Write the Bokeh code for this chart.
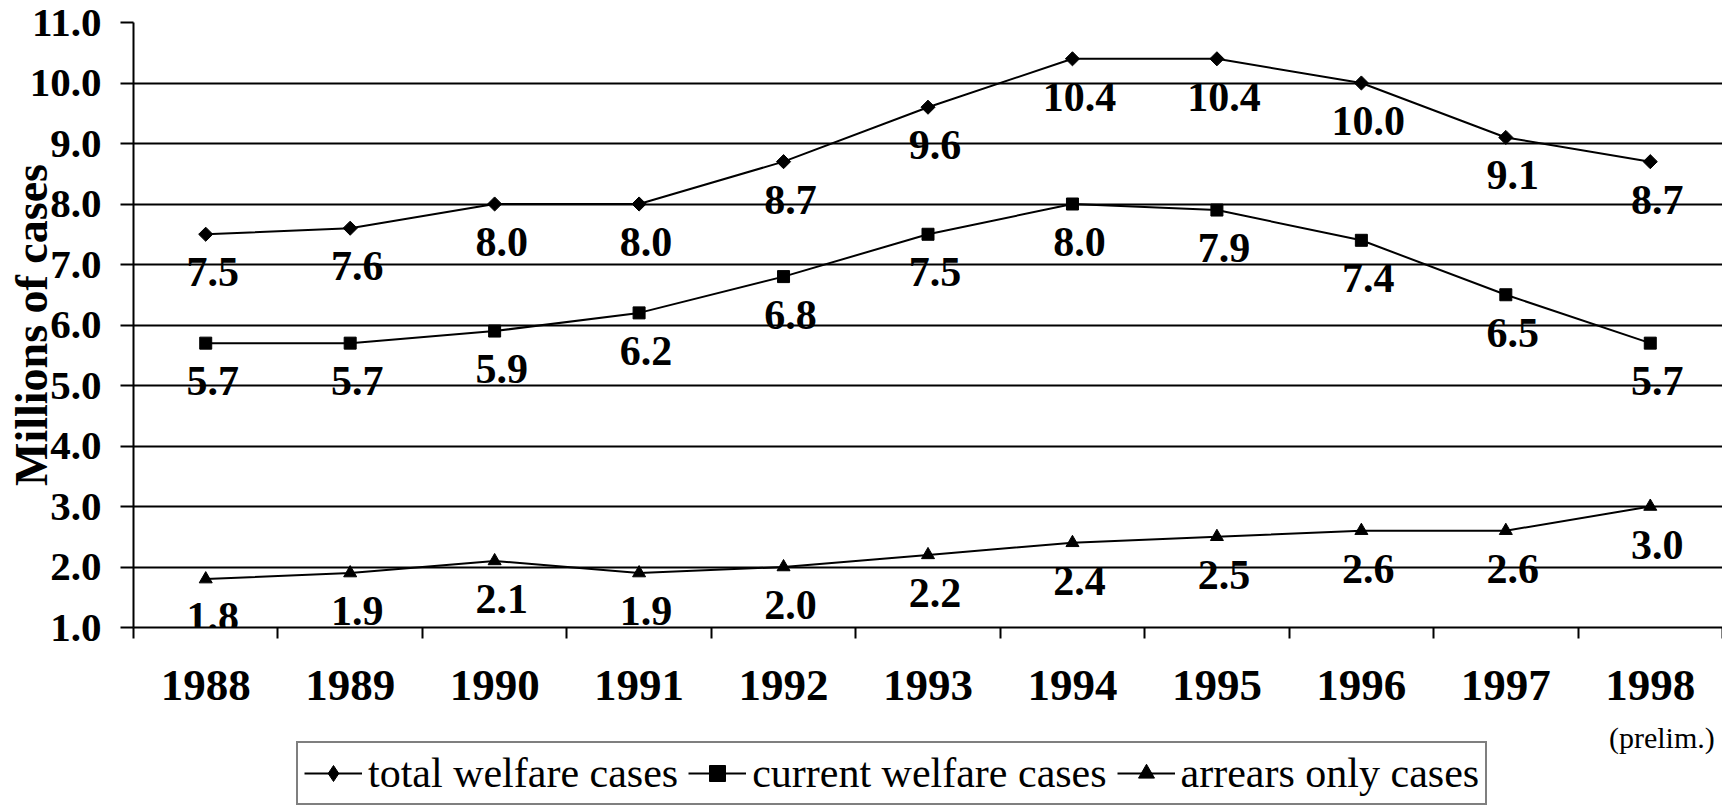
import math
from bokeh.plotting import figure
from bokeh.layouts import column
from bokeh.models import (FixedTicker, ColumnDataSource, LabelSet, Label, Range1d,
                          PrintfTickFormatter, Legend, LegendItem)
from bokeh.core.properties import value
from bokeh.embed import file_html
from bokeh.resources import INLINE

years = ["1988", "1989", "1990", "1991", "1992", "1993", "1994", "1995", "1996", "1997", "1998"]
total = [7.5, 7.6, 8.0, 8.0, 8.7, 9.6, 10.4, 10.4, 10.0, 9.1, 8.7]
current = [5.7, 5.7, 5.9, 6.2, 6.8, 7.5, 8.0, 7.9, 7.4, 6.5, 5.7]
arrears = [1.8, 1.9, 2.1, 1.9, 2.0, 2.2, 2.4, 2.5, 2.6, 2.6, 3.0]
y_ticks = [1, 2, 3, 4, 5, 6, 7, 8, 9, 10, 11]
series_names = ["total welfare cases", "current welfare cases", "arrears only cases"]
prelim_note = "(prelim.)"

FONT = "Liberation Serif"
n = len(years)
xc = [i + 0.5 for i in range(n)]

W = 1722
H_TOP = 712
H_BOT = 809 - H_TOP

p = figure(width=W, height=H_TOP, output_backend="svg", toolbar_location=None,
           x_range=Range1d(0, n), y_range=Range1d(y_ticks[0], y_ticks[-1]),
           min_border_left=133, min_border_right=0, min_border_top=22,
           min_border_bottom=H_TOP - 627)
p.outline_line_color = None
p.background_fill_color = "white"
p.border_fill_color = "white"

# x axis (year labels, boundary tick marks)
xa = p.xaxis[0]
xa.ticker = FixedTicker(ticks=xc, minor_ticks=list(range(n + 1)))
xa.major_label_overrides = {x: y for x, y in zip(xc, years)}
xa.major_tick_out = 0
xa.major_tick_in = 0
xa.minor_tick_out = 11
xa.minor_tick_in = 0
xa.minor_tick_line_color = "black"
xa.minor_tick_line_width = 2
xa.axis_line_color = "black"
xa.axis_line_width = 2
xa.major_label_standoff = 32
xa.major_label_text_font = FONT
xa.major_label_text_font_style = "bold"
xa.major_label_text_font_size = "45px"
xa.major_label_text_color = "black"

# y axis
ya = p.yaxis[0]
ya.ticker = FixedTicker(ticks=y_ticks, minor_ticks=[])
ya.formatter = PrintfTickFormatter(format="%.1f")
ya.major_tick_out = 13
ya.major_tick_in = 0
ya.major_tick_line_width = 2
ya.major_tick_line_color = "black"
ya.minor_tick_line_color = None
ya.axis_line_color = "black"
ya.axis_line_width = 2
ya.major_label_standoff = 19
ya.major_label_text_font = FONT
ya.major_label_text_font_style = "bold"
ya.major_label_text_font_size = "41px"
ya.major_label_text_color = "black"
ya.axis_label = "Millions of cases"
ya.axis_label_standoff = -30
ya.axis_label_text_font = FONT
ya.axis_label_text_font_style = "bold"
ya.axis_label_text_font_size = "46px"
ya.axis_label_text_color = "black"

p.xgrid.visible = False
p.ygrid.ticker = FixedTicker(ticks=y_ticks)
p.ygrid.grid_line_color = "black"
p.ygrid.grid_line_width = 2
p.ygrid.grid_line_alpha = 1.0

all_series = [total, current, arrears]
markers = [("square", math.pi / 4, 10), ("square", 0, 12), ("triangle", 0, 13)]
legend_markers = [("diamond", 15), ("square", 12), ("triangle", 13)]
for vals, (mk, ang, sz) in zip(all_series, markers):
    p.line(xc, vals, line_color="black", line_width=2)
    p.scatter(xc, vals, marker=mk, angle=ang, size=sz, fill_color="black",
              line_color="black")
    src = ColumnDataSource(dict(x=xc, y=vals, t=[f"{v:.1f}" for v in vals]))
    p.add_layout(LabelSet(x="x", y="y", text="t", source=src, x_offset=7, y_offset=-38,
                          text_align="center", text_baseline="middle",
                          text_font=value(FONT), text_font_style="bold",
                          text_font_size="42px", text_color="black"))

# lower strip: "(prelim.)" note and the legend box
p2 = figure(width=W, height=H_BOT, output_backend="svg", toolbar_location=None,
            x_range=p.x_range, y_range=Range1d(0, 1),
            x_axis_location=None, y_axis_location=None,
            min_border_left=133, min_border_right=0, min_border_top=0, min_border_bottom=0)
p2.outline_line_color = None
p2.xgrid.visible = False
p2.ygrid.visible = False
p2.background_fill_color = "white"
p2.border_fill_color = "white"

# legend proxies: same series, lying outside this strip's visible y range
items = []
for vals, name, (mk, sz) in zip(all_series, series_names, legend_markers):
    r1 = p2.line(xc, vals, line_color="black", line_width=2)
    r2 = p2.scatter(xc, vals, marker=mk, size=sz, fill_color="black", line_color="black")
    items.append(LegendItem(label=name, renderers=[r1, r2]))

lg = Legend(items=items, location=(163, 4), orientation="horizontal")
lg.label_text_font = FONT
lg.label_text_font_size = "42px"
lg.label_text_color = "black"
lg.glyph_width = 58
lg.glyph_height = 40
lg.label_standoff = 6
lg.spacing = 10
lg.padding = 6
lg.margin = 0
lg.border_line_color = "black"
lg.border_line_width = 2
lg.background_fill_alpha = 1.0
p2.add_layout(lg, "center")

p2.add_layout(Label(x=xc[-1] + 0.08, y=1 - 25 / H_BOT, text=prelim_note,
                    text_align="center", text_baseline="middle", text_font=FONT,
                    text_font_size="30px", text_color="black"))

layout = column(p, p2, spacing=0)
open("out.html", "w").write(file_html(layout, INLINE))
